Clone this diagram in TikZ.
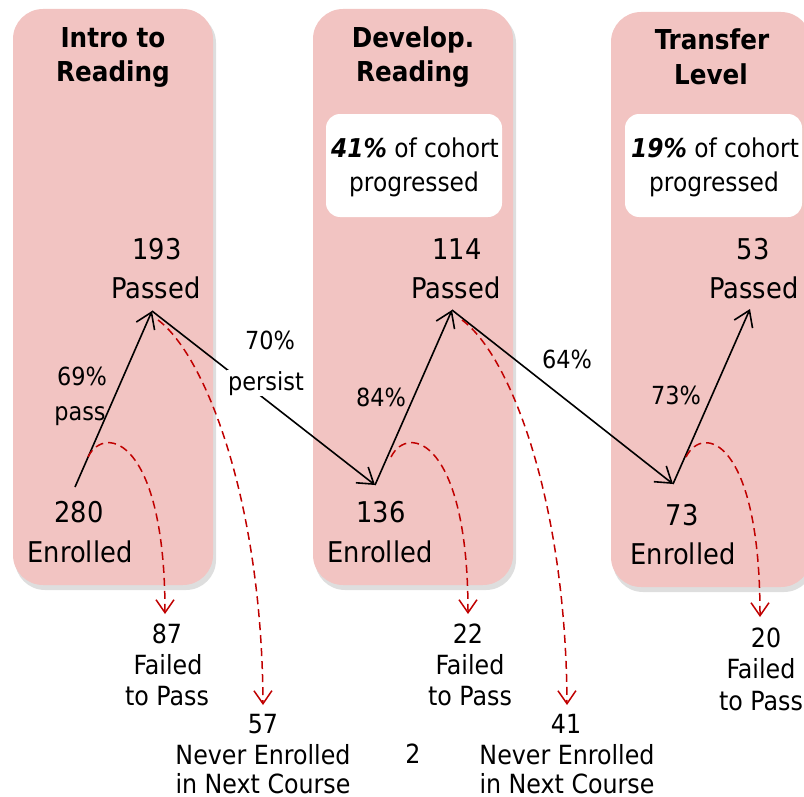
\documentclass[tikz,border=0pt]{standalone}
\usepackage{fontspec}
\setmainfont{DejaVu Sans Condensed}
\usetikzlibrary{arrows.meta}
\definecolor{boxpink}{RGB}{242,196,194}
\definecolor{dropred}{RGB}{192,0,0}
\begin{document}
\begin{tikzpicture}[x=1bp,y=-1bp,
  stage/.style={fill=boxpink, rounded corners=30bp},
  shadowbox/.style={fill=black, opacity=0.13, rounded corners=30bp},
  note/.style={fill=white, rounded corners=14bp},
  title/.style={font=\fontsize{27.5}{33}\selectfont\bfseries, anchor=base, inner sep=0pt},
  big/.style={font=\fontsize{28.7}{39}\selectfont, anchor=base, inner sep=0pt},
  lab/.style={font=\fontsize{25}{31}\selectfont, anchor=base, inner sep=0pt},
  loss/.style={font=\fontsize{26.5}{31}\selectfont, anchor=base, inner sep=0pt},
  flow/.style={line width=1.6bp, line join=miter, -{Straight Barb[length=15bp,width=20bp]}},
  drop/.style={dropred, line width=1.5bp, dash pattern=on 8bp off 5bp, -{Straight Barb[length=13bp,width=18bp,line width=1.5bp]}}
]
\path[use as bounding box] (0,0) rectangle (804,797);
\clip (0,0) rectangle (804,797);
% stage boxes
\path[shadowbox] (15,13) rectangle (216,590);
\path[shadowbox] (315,13) rectangle (516,590);
\path[shadowbox] (613,16) rectangle (814,592);
\path[stage] (13,9) rectangle (213,585);
\path[stage] (313,9) rectangle (513,585);
\path[stage] (611,12) rectangle (811,587);
\path[note] (326,114) rectangle (502,217);
\path[note] (625,114) rectangle (802,217);
% titles
\node[title] (t1a) at (113,48) {Intro to};
\node[title] (t1b) at (113,81) {Reading};
\node[title] (t2a) at (413,48) {Develop.};
\node[title] (t2b) at (413,81) {Reading};
\node[title] (t3a) at (712,50) {Transfer};
\node[title] (t3b) at (711,84) {Level};
% cohort notes
\node[lab, font=\fontsize{26}{31}\selectfont] (c2a) at (415,157) {\textbf{\textit{41\%}} of cohort};
\node[lab, font=\fontsize{26}{31}\selectfont] (c2b) at (414,191) {progressed};
\node[lab, font=\fontsize{26}{31}\selectfont] (c3a) at (715,157) {\textbf{\textit{19\%}} of cohort};
\node[lab, font=\fontsize{26}{31}\selectfont] (c3b) at (714,191) {progressed};
% counts
\node[big] (p1n) at (157,259) {193};
\node[big] (p1t) at (156,298) {Passed};
\node[big] (e1n) at (79,522) {280};
\node[big] (e1t) at (80,562) {Enrolled};
\node[big] (p2n) at (457,259) {114};
\node[big] (p2t) at (456,298) {Passed};
\node[big] (e2n) at (381,522) {136};
\node[big] (e2t) at (380,562) {Enrolled};
\node[big] (p3n) at (753,259) {53};
\node[big] (p3t) at (754,298) {Passed};
\node[big] (e3n) at (682,525) {73};
\node[big] (e3t) at (683,564) {Enrolled};
% flow points
\coordinate (e1) at (75,487);
\coordinate (p1) at (152,311);
\coordinate (e2) at (375,485);
\coordinate (p2) at (452,310);
\coordinate (e3) at (673,484);
\coordinate (p3) at (750,309);
\draw[flow] (e1) -- (p1);
\draw[flow] (p1) -- (e2);
\draw[flow] (e2) -- (p2);
\draw[flow] (p2) -- (e3);
\draw[flow] (e3) -- (p3);
% rate labels
\node[lab] (r1a) at (82,385) {69\%};
\node[lab] (r1b) at (80,420) {pass};
\node[lab] (r2a) at (270,349) {70\%};
\node[lab, fill=white, inner sep=1bp] (r2b) at (266,390) {persist};
\node[lab] (r3) at (381,406) {84\%};
\node[lab] (r4) at (567,368) {64\%};
\node[lab] (r5) at (676,404) {73\%};
% loss labels
\node[loss] (f1n) at (167,643) {87};
\node[loss] (f1a) at (168,674) {Failed};
\node[loss] (f1b) at (167,705) {to Pass};
\node[loss] (n1n) at (263,733) {57};
\node[loss] (n1a) at (263,764) {Never Enrolled};
\node[loss, text depth=0pt] (n1b) at (263,793) {in Next Course};
\node[loss] (pg) at (413,763) {2};
\node[loss] (f2n) at (468,643) {22};
\node[loss] (f2a) at (470,674) {Failed};
\node[loss] (f2b) at (470,705) {to Pass};
\node[loss] (n2n) at (566,733) {41};
\node[loss] (n2a) at (567,764) {Never Enrolled};
\node[loss, text depth=0pt] (n2b) at (567,793) {in Next Course};
\node[loss] (f3n) at (766,647) {20};
\node[loss] (f3a) at (761,678) {Failed};
\node[loss] (f3b) at (761,710) {to Pass};
% loss connectors
\coordinate (f1s) at (88,457);
\coordinate (f1e) at (165,614);
\coordinate (n1s) at (158,320);
\coordinate (n1e) at (263,705);
\coordinate (f2s) at (391,457);
\coordinate (f2e) at (468,614);
\coordinate (n2s) at (462,320);
\coordinate (n2e) at (567,705);
\coordinate (f3s) at (686,457);
\coordinate (f3e) at (760,617);
\draw[drop] (f1s) .. controls (105,423) and (165,440) .. (f1e);
\draw[drop] (n1s) .. controls (205,355) and (262,500) .. (n1e);
\draw[drop] (f2s) .. controls (408,423) and (468,440) .. (f2e);
\draw[drop] (n2s) .. controls (510,355) and (566,500) .. (n2e);
\draw[drop] (f3s) .. controls (703,423) and (760,440) .. (f3e);
\end{tikzpicture}
\end{document}
